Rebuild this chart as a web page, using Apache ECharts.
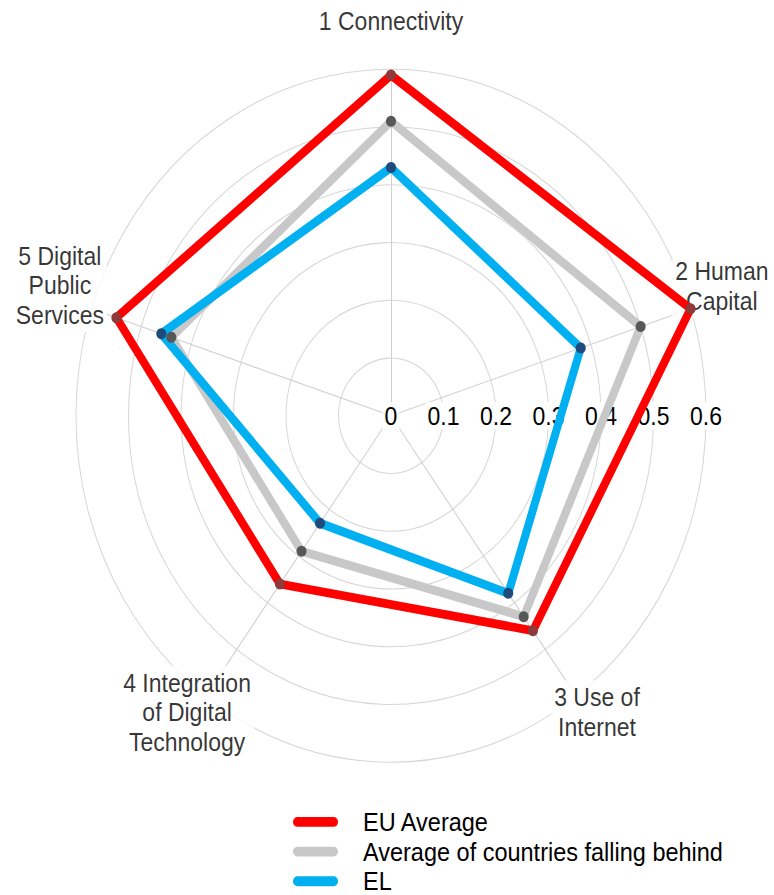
<!DOCTYPE html>
<html><head><meta charset="utf-8">
<script src="https://cdn.jsdelivr.net/npm/echarts@6/dist/echarts.min.js"></script>
<style>
html,body{margin:0;padding:0;background:#fff;overflow:hidden;}
#wrap{width:774px;height:895px;overflow:hidden;}
#chart{width:774px;height:830px;transform:scaleY(1.1);transform-origin:0 0;}
</style></head><body>
<div id="wrap"><div id="chart"></div></div>
<script>
const categories = ['1 Connectivity', '2 Human\nCapital', '3 Use of\nInternet', '4 Integration\nof Digital\nTechnology', '5 Digital\nPublic\nServices'];
const euAverage = [0.59, 0.60, 0.46, 0.36, 0.55];
const fallingBehind = [0.51, 0.50, 0.43, 0.29, 0.44];
const el = [0.43, 0.38, 0.38, 0.23, 0.46];
const seriesNames = ['EU Average', 'Average of countries falling behind', 'EL'];
const tickLabels = ['0', '0.1', '0.2', '0.3', '0.4', '0.5', '0.6'];

// layout / style
const FONT = "'Liberation Sans', Arial, sans-serif";
const lineColors = ['#FF0000', '#C8C8C8', '#00B0F0'];
const pointColors = ['#8E3A3A', '#575757', '#1F4A7C'];
const nameLayout = [[0.683, 90], [0.669, 19.6], [0.646, 307.4], [0.644, 232.9], [0.670, 160.3]];
const CENTER = [391, 378], RADIUS = 315;
// ECharts radar lays indicators counter-clockwise; the reference goes clockwise
const order = [0, 4, 3, 2, 1];

const seriesValues = [euAverage, fallingBehind, el];
const chart = echarts.init(document.getElementById('chart'), null, {renderer: 'svg'});
chart.setOption({
  animation: false,
  backgroundColor: '#fff',
  textStyle: {fontFamily: FONT},
  radar: {
    center: CENTER, radius: RADIUS, startAngle: 90,
    shape: 'circle', splitNumber: 6, z: 0,
    indicator: order.map(i => ({name: categories[i], min: 0, max: 0.6})),
    axisName: {show: false},
    axisLine: {lineStyle: {color: '#d0d0d0', width: 1}},
    splitLine: {lineStyle: {color: '#d6d6d6', width: 1}},
    splitArea: {show: false},
    axisTick: {show: false},
    axisLabel: {show: false}
  },
  polar: {center: CENTER, radius: RADIUS},
  angleAxis: {type: 'value', min: 0, max: 360, startAngle: 0, clockwise: false, show: false},
  radiusAxis: {
    type: 'value', min: 0, max: 0.6, interval: 0.1, z: 1,
    axisLine: {show: false}, axisTick: {show: false}, splitLine: {show: false},
    axisLabel: {
      show: true, margin: 0, align: 'center', verticalAlign: 'middle',
      color: '#000', fontSize: 23, fontFamily: FONT,
      backgroundColor: '#fff', padding: [1, 2],
      formatter: v => tickLabels[Math.round(v * 10)]
    }
  },
  legend: {
    orient: 'vertical', left: 293, top: 735.2, padding: 0,
    itemWidth: 51, itemHeight: 9, itemGap: 3,
    icon: 'path://M5,0H45A5,5,0,0,1,45,10H5A5,5,0,0,1,5,0Z',
    selectedMode: false,
    textStyle: {fontSize: 23.5, lineHeight: 23.5, color: '#000', fontFamily: FONT, padding: [0, 0, 0, 17]},
    data: seriesNames.map((n, i) => ({name: n, itemStyle: {color: lineColors[i], borderWidth: 0}}))
  },
  series: [
    {
      type: 'scatter', coordinateSystem: 'polar', z: 1, clip: false, silent: true,
      symbolSize: 1, itemStyle: {color: 'rgba(0,0,0,0)'},
      data: categories.map((c, i) => ({name: c, value: [nameLayout[i][0], nameLayout[i][1]]})),
      label: {
        show: true, position: 'inside', formatter: p => p.name,
        color: '#000', fontSize: 23, lineHeight: 27, fontFamily: FONT,
        align: 'center', verticalAlign: 'middle',
        backgroundColor: '#fff', padding: [2, 3]
      }
    },
    {
      type: 'radar', z: 2, symbol: 'circle', symbolSize: 10, silent: true,
      data: seriesNames.map((n, i) => ({
        name: n, value: order.map(k => seriesValues[i][k]),
        lineStyle: {color: lineColors[i], width: 8},
        itemStyle: {color: pointColors[i]}
      }))
    }
  ]
});
</script>
</body></html>
